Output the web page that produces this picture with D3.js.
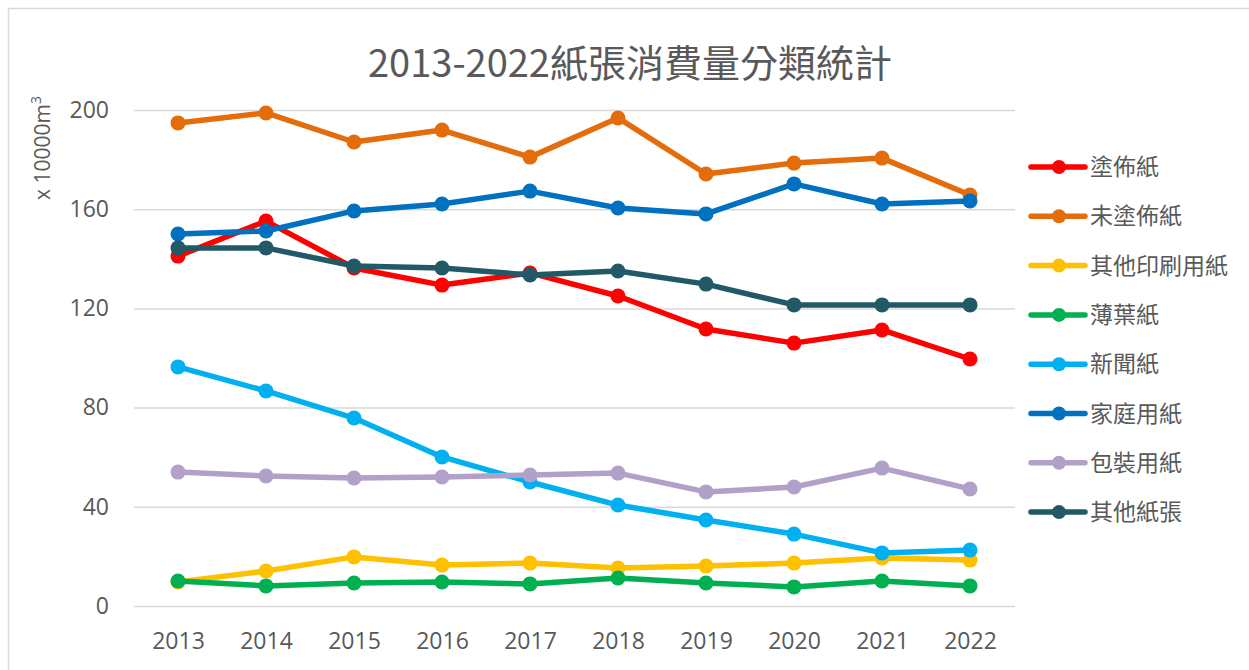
<!DOCTYPE html>
<html>
<head>
<meta charset="utf-8">
<script src="https://cdn.jsdelivr.net/npm/d3@7"></script>
<style>
  body { margin: 0; background: #fff; }
  svg { display: block; font-family: "Noto Sans CJK TC", "Noto Sans", sans-serif; }
</style>
</head>
<body>
<div id="chart"></div>
<script>
const years = ["2013", "2014", "2015", "2016", "2017", "2018", "2019", "2020", "2021", "2022"];
const yTicks = [0, 40, 80, 120, 160, 200];

const coated = [141.1, 155.2, 136.3, 129.4, 134.3, 125.0, 111.7, 106.0, 111.3, 99.6];
const uncoated = [194.8, 198.8, 187.1, 191.9, 181.0, 196.8, 174.2, 178.6, 180.6, 165.7];
const otherPrinting = [9.7, 14.1, 19.8, 16.5, 17.3, 15.3, 16.1, 17.3, 19.4, 18.5];
const tissue = [10.1, 8.1, 9.3, 9.7, 8.9, 11.3, 9.3, 7.7, 10.1, 8.1];
const newsprint = [96.4, 86.7, 75.8, 60.1, 50.0, 40.7, 34.7, 29.0, 21.4, 22.6];
const household = [150.0, 151.2, 159.3, 162.1, 167.3, 160.5, 158.1, 170.2, 162.1, 163.3];
const packaging = [54.0, 52.4, 51.6, 52.0, 52.8, 53.6, 46.0, 48.0, 55.6, 47.2];
const otherPaper = [144.4, 144.4, 137.1, 136.3, 133.5, 135.1, 129.8, 121.4, 121.4, 121.4];

const seriesNames = ["塗佈紙", "未塗佈紙", "其他印刷用紙", "薄葉紙", "新聞紙", "家庭用紙", "包裝用紙", "其他紙張"];
const seriesColors = ["#FF0000", "#E46C0A", "#FFC000", "#00B050", "#00B0F0", "#0070C0", "#B1A0C7", "#215967"];
const seriesValues = [coated, uncoated, otherPrinting, tissue, newsprint, household, packaging, otherPaper];

const W = 1249, H = 670;
const plot = { left: 134, right: 1015, top: 110, bottom: 606 };

const svg = d3.select("#chart").append("svg")
    .attr("width", W)
    .attr("height", H);

// outer chart border (only top/left edges are inside the frame)
svg.append("rect")
    .attr("x", 8.5).attr("y", 8.5)
    .attr("width", W + 20).attr("height", H + 20)
    .attr("fill", "#fff")
    .attr("stroke", "#d9d9d9")
    .attr("stroke-width", 1.5);

const x = d3.scalePoint().domain(years).range([178, 970]);
const y = d3.scaleLinear().domain([0, 200]).range([plot.bottom, plot.top]);

// gridlines
svg.append("g")
    .selectAll("line")
    .data(yTicks)
    .join("line")
    .attr("x1", plot.left).attr("x2", plot.right)
    .attr("y1", d => y(d) + 0.5).attr("y2", d => y(d) + 0.5)
    .attr("stroke", "#d9d9d9")
    .attr("stroke-width", 1.5);

// y axis labels
const yAxis = svg.append("g")
    .attr("transform", `translate(109,0)`)
    .call(d3.axisLeft(y).tickValues(yTicks).tickSize(0).tickPadding(0));
yAxis.select(".domain").remove();
yAxis.selectAll("text")
    .attr("fill", "#595959")
    .style("font-size", "23px")
    .style("font-family", "'Open Sans', 'Noto Sans', sans-serif");

// x axis labels
const xAxis = svg.append("g")
    .attr("transform", `translate(0,641)`)
    .call(d3.axisBottom(x).tickSize(0).tickPadding(0));
xAxis.select(".domain").remove();
xAxis.selectAll("text")
    .attr("fill", "#595959")
    .attr("dy", "0.35em")
    .style("font-size", "23px")
    .style("font-family", "'Open Sans', 'Noto Sans', sans-serif");

// y axis title
const yTitle = svg.append("text")
    .attr("transform", "translate(50,148) rotate(-90)")
    .attr("text-anchor", "middle")
    .attr("fill", "#595959")
    .style("font-size", "21px")
    .style("font-family", "'Open Sans', 'Noto Sans', sans-serif");
yTitle.append("tspan").text("x 10000m");
yTitle.append("tspan").text("3").attr("dy", "-9").style("font-size", "14px");

// title
svg.append("text")
    .attr("x", 630).attr("y", 77)
    .attr("text-anchor", "middle")
    .attr("fill", "#595959")
    .style("font-size", "38px")
    .text("2013-2022紙張消費量分類統計");

// lines
const line = d3.line()
    .x((d, i) => x(years[i]))
    .y(d => y(d));

const series = svg.append("g")
    .selectAll("g")
    .data(seriesValues)
    .join("g");

series.append("path")
    .attr("d", d => line(d))
    .attr("fill", "none")
    .attr("stroke", (d, i) => seriesColors[i])
    .attr("stroke-width", 5.5)
    .attr("stroke-linejoin", "round")
    .attr("stroke-linecap", "round");

series.each(function(vals, si) {
    d3.select(this).selectAll("circle")
        .data(vals)
        .join("circle")
        .attr("cx", (d, i) => x(years[i]))
        .attr("cy", d => y(d))
        .attr("r", 7.5)
        .attr("fill", seriesColors[si]);
});

// legend
const legend = svg.append("g")
    .selectAll("g")
    .data(seriesNames)
    .join("g")
    .attr("transform", (d, i) => `translate(1031,${167 + i * 49.3})`);

legend.append("line")
    .attr("x1", 0).attr("x2", 54)
    .attr("stroke", (d, i) => seriesColors[i])
    .attr("stroke-width", 5.5)
    .attr("stroke-linecap", "round");

legend.append("circle")
    .attr("cx", 28).attr("r", 7)
    .attr("fill", (d, i) => seriesColors[i]);

legend.append("text")
    .attr("x", 59)
    .attr("dy", "0.35em")
    .attr("fill", "#595959")
    .style("font-size", "23px")
    .text(d => d);
</script>
</body>
</html>
